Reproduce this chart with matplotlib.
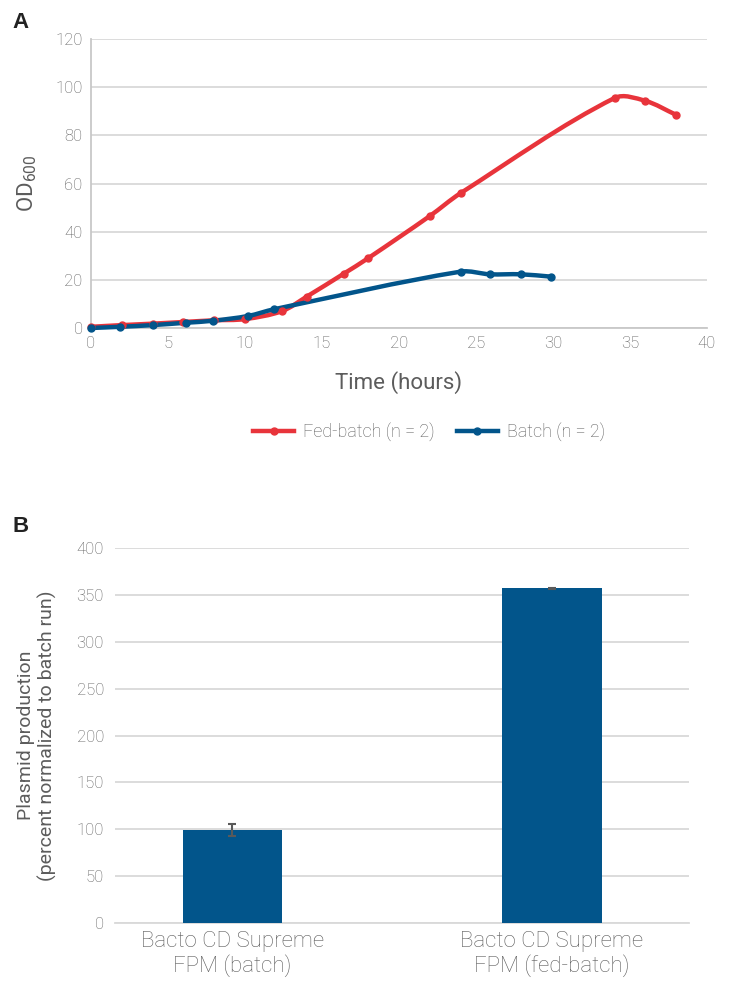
import matplotlib
matplotlib.use("Agg")
import matplotlib.pyplot as plt
from matplotlib.path import Path
from matplotlib.patches import PathPatch
from matplotlib.lines import Line2D
import numpy as np

plt.rcParams['font.family'] = ['Roboto', 'DejaVu Sans']
plt.rcParams['font.weight'] = 'light'

# ---- data ----
fed_x = [0, 2, 4, 6, 8, 10, 12.4, 14, 16.4, 18, 22, 24, 34, 36, 38]
fed_y = [0.5, 1.2, 1.8, 2.5, 3.2, 3.7, 7, 13, 22.5, 29, 46.5, 56, 95.5, 94.3, 88.5]
batch_x = [0, 1.9, 4, 6.2, 7.9, 10.2, 11.9, 24, 25.9, 27.9, 29.9]
batch_y = [0, 0.5, 1.2, 2.2, 3, 5, 7.8, 23.4, 22.3, 22.3, 21.3]
series_labels = ["Fed-batch (n = 2)", "Batch (n = 2)"]

bar_labels = ["Bacto CD Supreme\nFPM (batch)", "Bacto CD Supreme\nFPM (fed-batch)"]
bar_values = [99, 357]
bar_errors = [6.5, 0.8]

RED = "#E8343B"
BLUE = "#02558B"
GRID = "#d9d9d9"
TXT = "#5c5c5c"

W, H = 732, 983
fig = plt.figure(figsize=(W / 100, H / 100), dpi=100)


def px_axes(l, t, r, b):
    return fig.add_axes([l / W, 1 - b / H, (r - l) / W, (b - t) / H])


def smooth_path(xs, ys, ax):
    # smoothed line (chord-length cardinal spline) rendered as cubic Bezier in display space
    pts = ax.transData.transform(np.column_stack([xs, ys]))
    n = len(pts)
    d = np.linalg.norm(np.diff(pts, axis=0), axis=1)
    tang = np.zeros_like(pts)
    for i in range(n):
        if i == 0:
            tang[i] = (pts[1] - pts[0]) / d[0]
        elif i == n - 1:
            tang[i] = (pts[-1] - pts[-2]) / d[-1]
        else:
            tang[i] = (pts[i + 1] - pts[i - 1]) / (d[i - 1] + d[i])
    verts = [pts[0]]
    codes = [Path.MOVETO]
    for i in range(n - 1):
        c1 = pts[i] + tang[i] * d[i] / 3.0
        c2 = pts[i + 1] - tang[i + 1] * d[i] / 3.0
        verts += [c1, c2, pts[i + 1]]
        codes += [Path.CURVE4] * 3
    return Path(verts, codes)


# ---- Panel A ----
ax = px_axes(91, 39, 707, 328)
ax.set_xlim(0, 40)
ax.set_ylim(0, 120)
ax.set_xticks(range(0, 41, 5))
ax.set_yticks(range(0, 121, 20))
ax.grid(axis='y', color=GRID, lw=1.3)
ax.set_axisbelow(True)
for s in ['top', 'right']:
    ax.spines[s].set_visible(False)
ax.spines['left'].set_color("#c8c8c8")
ax.spines['bottom'].set_color("#c8c8c8")
ax.spines['left'].set_linewidth(1.3)
ax.spines['bottom'].set_linewidth(1.3)
ax.tick_params(length=0, labelsize=12, colors=TXT, pad=6)
ax.set_xlabel("Time (hours)", fontsize=16, color=TXT, labelpad=14)
ax.set_ylabel(r"OD$_{\mathregular{600}}$", fontsize=16, color=TXT, labelpad=12)

fig.canvas.draw()
for xs, ys, c in [(fed_x, fed_y, RED), (batch_x, batch_y, BLUE)]:
    patch = PathPatch(smooth_path(xs, ys, ax), facecolor='none', edgecolor=c,
                      lw=3.2, transform=None, capstyle='round', joinstyle='round', zorder=3)
    ax.add_artist(patch)
    patch.set_clip_on(False)
    ax.plot(xs, ys, 'o', color=c, ms=5, zorder=4, clip_on=False)

handles = [Line2D([], [], color=RED, lw=3.2, marker='o', ms=5),
           Line2D([], [], color=BLUE, lw=3.2, marker='o', ms=5)]
leg = fig.legend(handles, series_labels, loc='center', bbox_to_anchor=(429 / W, 1 - 432 / H),
                 ncol=2, frameon=False, fontsize=13, handlelength=2.3, columnspacing=1.2,
                 handletextpad=0.5)
for t in leg.get_texts():
    t.set_color(TXT)

fig.text(12 / W, 1 - 22 / H, "A", fontsize=16, fontweight='bold', color="#222222",
         va='center', ha='left', family=['Liberation Sans', 'DejaVu Sans'])

# ---- Panel B ----
bx = px_axes(115, 548, 689, 923)
xpos = np.arange(len(bar_values))
bx.bar(xpos, bar_values, width=0.31, color=BLUE, zorder=3)
bx.errorbar(xpos, bar_values, yerr=bar_errors, fmt='none', ecolor="#595959",
            elinewidth=1.5, capsize=3, capthick=1.5, zorder=4)
bx.set_xlim(-0.366, 1.428)
bx.set_ylim(0, 400)
bx.set_yticks(range(0, 401, 50))
bx.set_xticks(xpos)
bx.set_xticklabels(bar_labels, fontsize=16, color=TXT, linespacing=1.1)
bx.grid(axis='y', color=GRID, lw=1.3)
bx.set_axisbelow(True)
for s in ['top', 'right', 'left']:
    bx.spines[s].set_visible(False)
bx.spines['bottom'].set_color(GRID)
bx.spines['bottom'].set_linewidth(1.3)
bx.tick_params(axis='y', length=0, labelsize=12, colors=TXT, pad=8)
bx.tick_params(axis='x', length=0, colors=TXT, pad=6)
bx.set_ylabel("Plasmid production\n(percent normalized to batch run)", fontsize=14,
              color=TXT, labelpad=14, linespacing=1.2)

fig.text(12 / W, 1 - 527 / H, "B", fontsize=16, fontweight='bold', color="#222222",
         va='center', ha='left', family=['Liberation Sans', 'DejaVu Sans'])

fig.savefig("out.png", dpi=100)
